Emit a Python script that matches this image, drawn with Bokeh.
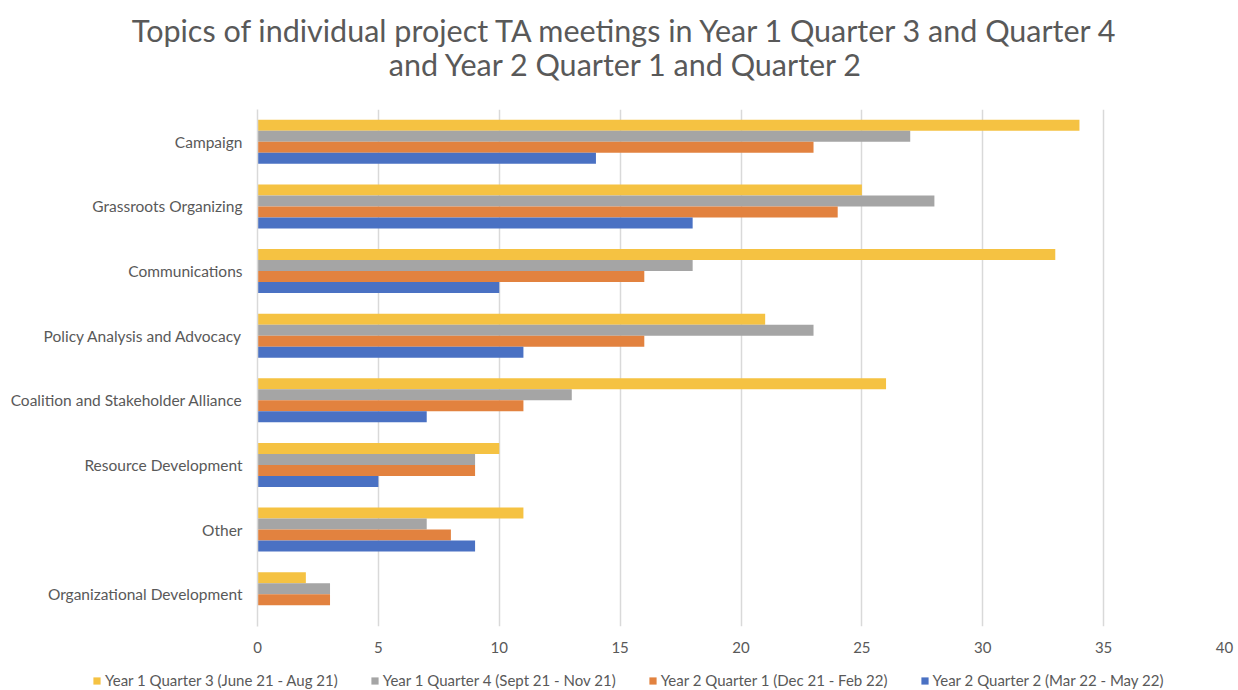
from bokeh.plotting import figure
from bokeh.layouts import column
from bokeh.models import FactorRange, Legend, LegendItem, Label, ColumnDataSource, FixedTicker
from bokeh.transform import dodge
from bokeh.embed import file_html
from bokeh.resources import INLINE

categories = ["Campaign", "Grassroots Organizing", "Communications",
              "Policy Analysis and Advocacy", "Coalition and Stakeholder Alliance",
              "Resource Development", "Other", "Organizational Development"]
series_names = ["Year 1 Quarter 3 (June 21 - Aug 21)",
                "Year 1 Quarter 4 (Sept 21 - Nov 21)",
                "Year 2 Quarter 1 (Dec 21 - Feb 22)",
                "Year 2 Quarter 2 (Mar 22 - May 22)"]
y1q3 = [34, 25, 33, 21, 26, 10, 11, 2]
y1q4 = [27, 28, 18, 23, 13, 9, 7, 3]
y2q1 = [23, 24, 16, 16, 11, 9, 8, 3]
y2q2 = [14, 18, 10, 11, 7, 5, 9, 0]
x_ticks = [0, 5, 10, 15, 20, 25, 30, 35, 40]
title_lines = ["Topics of individual project TA meetings in Year 1 Quarter 3 and Quarter 4",
               "and Year 2 Quarter 1 and Quarter 2"]

colors = ["#F5C242", "#A5A5A5", "#E2823F", "#4A71C3"]
offsets = [0.2555, 0.085, -0.085, -0.2555]
TXT = "#595959"
FONT = "Lato"

source = ColumnDataSource(dict(cat=categories, s0=y1q3, s1=y1q4, s2=y2q1, s3=y2q2))

# title strip
tt = figure(width=1236, height=109, output_backend="svg", toolbar_location=None,
            x_axis_location=None, y_axis_location=None, x_range=(0, 1), y_range=(0, 1),
            min_border_left=0, min_border_right=0, min_border_top=0, min_border_bottom=0)
tt.outline_line_color = None
tt.grid.grid_line_color = None
tt.frame_align = False
for txt, yy in zip(title_lines, [80, 46]):
    tt.add_layout(Label(x=626, y=yy, x_units="screen", y_units="screen", text=txt,
                        text_align="center", text_baseline="alphabetic",
                        text_font=FONT, text_font_size="30.5px", text_color=TXT))

p = figure(width=1236, height=562, output_backend="svg", toolbar_location=None,
           y_range=FactorRange(factors=list(reversed(categories))),
           x_range=(0, 40),
           min_border_left=257, min_border_right=12, min_border_top=0, min_border_bottom=45)
p.outline_line_color = None
p.frame_align = False

for i, key in enumerate(["s0", "s1", "s2", "s3"]):
    p.hbar(y=dodge("cat", offsets[i], range=p.y_range), right=key, left=0,
           height=0.17, source=source, fill_color=colors[i], line_color=None)

p.xaxis.ticker = FixedTicker(ticks=x_ticks)
p.xaxis.axis_line_color = None
p.xaxis.major_tick_line_color = None
p.xaxis.minor_tick_line_color = None
p.xaxis.major_label_text_color = TXT
p.xaxis.major_label_text_font = FONT
p.xaxis.major_label_text_font_size = "15px"
p.xaxis.major_label_standoff = 9

p.yaxis.axis_line_color = "#D9D9D9"
p.yaxis.axis_line_width = 1.5
p.yaxis.major_tick_line_color = None
p.yaxis.minor_tick_line_color = None
p.yaxis.major_label_text_color = TXT
p.yaxis.major_label_text_font = FONT
p.yaxis.major_label_text_font_size = "15.5px"
p.yaxis.major_label_standoff = 9

p.xgrid.grid_line_color = "#D9D9D9"
p.xgrid.grid_line_width = 1.5
p.xgrid.ticker = FixedTicker(ticks=x_ticks)
p.ygrid.grid_line_color = None

# legend strip below the chart (proxy renderers of zero size carry the swatches)
lg = figure(width=1236, height=19, output_backend="svg", toolbar_location=None,
            x_axis_location=None, y_axis_location=None, x_range=(0, 1), y_range=(0, 1),
            min_border_left=0, min_border_right=0, min_border_top=0, min_border_bottom=0)
lg.outline_line_color = None
lg.grid.grid_line_color = None
lg.frame_align = False
items = []
for i in range(4):
    r = lg.hbar(y=[0.5], left=[0], right=[0], height=0, fill_color=colors[i], line_color=None)
    items.append(LegendItem(label=series_names[i], renderers=[r]))
legend = Legend(items=items, orientation="horizontal", location=(92, 1),
                glyph_width=9, glyph_height=9, label_standoff=4, spacing=32,
                padding=0, margin=0, border_line_color=None, background_fill_alpha=0,
                label_text_font=FONT, label_text_font_size="15px", label_text_color=TXT,
                label_height=17)
lg.add_layout(legend, "center")

layout = column(tt, p, lg, spacing=0)
open("out.html", "w").write(file_html(layout, INLINE))
